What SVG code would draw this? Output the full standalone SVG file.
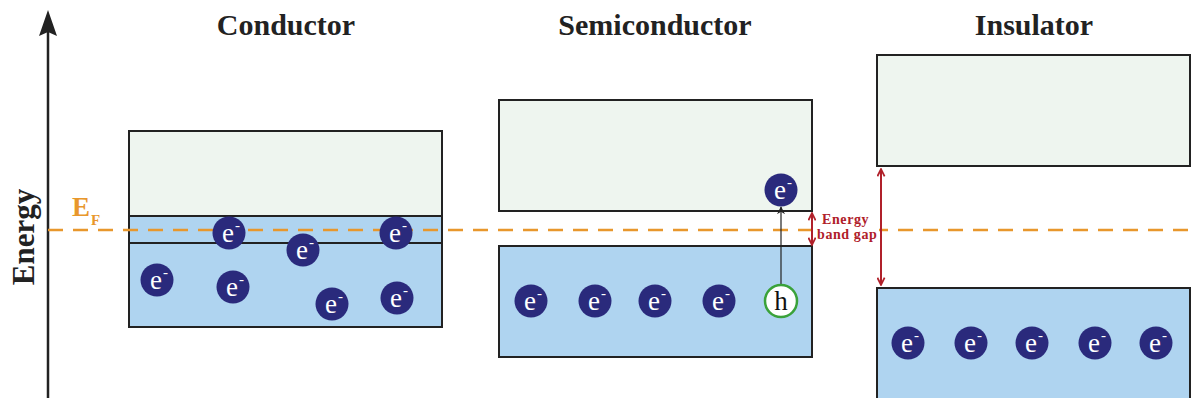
<svg xmlns="http://www.w3.org/2000/svg" width="1193" height="398" viewBox="0 0 1193 398">
<defs>
<style>
.cb{fill:#eef5ef;stroke:#222;stroke-width:2}
.vb{fill:#afd4f0;stroke:#222;stroke-width:2}
.el circle{fill:#2a2a7c}
.el text{fill:#fff;font-family:"Liberation Serif",serif;font-size:27px;text-anchor:middle}
.title{font-family:"Liberation Serif",serif;font-weight:bold;font-size:30px;fill:#222;text-anchor:middle}
.gap{fill:none;stroke:#b0202a;stroke-width:2}
.gapt{font-family:"Liberation Serif",serif;font-weight:bold;font-size:14px;letter-spacing:0.6px;fill:#b0202a}
</style>
<marker id="ah" viewBox="0 0 10 10" refX="9" refY="5" markerWidth="8" markerHeight="8" orient="auto-start-reverse" markerUnits="userSpaceOnUse"><path d="M0,0 L10,5 L0,10 L3,5 z" fill="#222"/></marker>
<marker id="rh" viewBox="0 0 10 10" refX="8" refY="5" markerWidth="9" markerHeight="9" orient="auto-start-reverse" markerUnits="userSpaceOnUse"><path d="M1,1 L9,5 L1,9" fill="none" stroke="#b0202a" stroke-width="2"/></marker>
<g id="e" class="el"><circle r="16.5"/><text x="-1" y="9">e</text><text x="8.5" y="-3" style="font-size:15px">-</text></g>
</defs>
<rect width="1193" height="398" fill="#fff"/>

<g id="axis">
<line x1="48" y1="398" x2="48" y2="30" stroke="#222" stroke-width="2.5"/>
<path d="M48,10 L57,36 L48,32 L39,36 z" fill="#222"/>
<text transform="translate(34,237) rotate(-90)" text-anchor="middle" font-family="Liberation Serif,serif" font-weight="bold" font-size="31" fill="#222">Energy</text>
</g>

<g id="titles">
<text class="title" x="286" y="35">Conductor</text>
<text class="title" x="655" y="35">Semiconductor</text>
<text class="title" x="1034" y="35">Insulator</text>
</g>

<g id="conductor-bands">
<rect class="vb" x="129" y="131" width="313" height="196"/>
<rect class="cb" x="129" y="131" width="313" height="85"/>
<line x1="129" y1="243" x2="442" y2="243" stroke="#222" stroke-width="2"/>
</g>
<g id="semiconductor-bands">
<rect class="cb" x="499" y="100" width="313" height="111"/>
<rect class="vb" x="499" y="246" width="313" height="111"/>
</g>
<g id="insulator-bands">
<rect class="cb" x="877" y="55" width="313" height="111"/>
<rect class="vb" x="877" y="288" width="313" height="112"/>
</g>

<g id="fermi">
<line x1="48" y1="230" x2="1193" y2="230" stroke="#e8972c" stroke-width="2.5" stroke-dasharray="15,10"/>
<text x="72" y="216" font-family="Liberation Serif,serif" font-weight="bold" font-size="27" fill="#e8972c">E<tspan font-size="15" dx="1" dy="9">F</tspan></text>
</g>

<g id="connectors">
<line x1="781" y1="284" x2="781" y2="207" stroke="#222" stroke-width="1.2" marker-end="url(#ah)"/>
<line class="gap" x1="812" y1="214" x2="812" y2="244" marker-start="url(#rh)" marker-end="url(#rh)"/>
<line class="gap" x1="881" y1="170" x2="881" y2="284" marker-start="url(#rh)" marker-end="url(#rh)"/>
</g>

<g id="conductor-electrons">
<use href="#e" x="229" y="233"/>
<use href="#e" x="303" y="250"/>
<use href="#e" x="396" y="233"/>
<use href="#e" x="157" y="280"/>
<use href="#e" x="233" y="287"/>
<use href="#e" x="332" y="304"/>
<use href="#e" x="397" y="298"/>
</g>
<g id="semiconductor-electrons">
<use href="#e" x="531" y="301"/>
<use href="#e" x="595" y="301"/>
<use href="#e" x="655" y="301"/>
<use href="#e" x="719" y="301"/>
<use href="#e" x="781" y="190"/>
<g id="hole"><circle cx="781" cy="301" r="16" fill="#fff" stroke="#3aa23a" stroke-width="2.5"/><text x="781" y="310" text-anchor="middle" font-family="Liberation Serif,serif" font-size="27" fill="#111">h</text></g>
</g>
<g id="insulator-electrons">
<use href="#e" x="908" y="343"/>
<use href="#e" x="971" y="343"/>
<use href="#e" x="1032" y="343"/>
<use href="#e" x="1095" y="343"/>
<use href="#e" x="1156" y="343"/>
</g>

<g id="gaplabel">
<rect x="816" y="214" width="63" height="30" fill="#fff"/>
<text class="gapt" x="822" y="224">Energy</text>
<text class="gapt" x="817" y="239">band gap</text>
</g>
</svg>
